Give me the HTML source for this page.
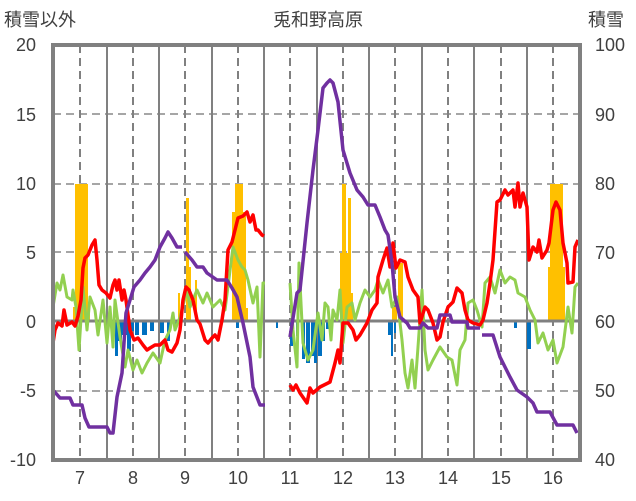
<!DOCTYPE html>
<html><head><meta charset="utf-8"><style>
html,body{margin:0;padding:0;background:#fff}
svg{display:block}
text{font-family:"Liberation Sans","Noto Sans CJK JP",sans-serif;fill:#404040}
</style></head><body>
<svg width="636" height="501" viewBox="0 0 636 501">
<rect width="636" height="501" fill="#fff"/>
<!-- grid -->
<g stroke="#a6a6a6" stroke-width="2" stroke-dasharray="8,5">
<line x1="53" y1="114" x2="580" y2="114"/><line x1="53" y1="184" x2="580" y2="184"/>
<line x1="53" y1="252" x2="580" y2="252"/><line x1="53" y1="391" x2="580" y2="391"/>
</g>
<g stroke="#808080" stroke-width="2" stroke-dasharray="8,5">
<line x1="80" y1="45" x2="80" y2="460"/><line x1="133" y1="45" x2="133" y2="460"/>
<line x1="185" y1="45" x2="185" y2="460"/><line x1="238" y1="45" x2="238" y2="460"/>
<line x1="290" y1="45" x2="290" y2="460"/><line x1="343" y1="45" x2="343" y2="460"/>
<line x1="395" y1="45" x2="395" y2="460"/><line x1="448" y1="45" x2="448" y2="460"/>
<line x1="501" y1="45" x2="501" y2="460"/><line x1="553" y1="45" x2="553" y2="460"/>
</g>
<g stroke="#808080" stroke-width="2">
<line x1="107" y1="45" x2="107" y2="460"/><line x1="159" y1="45" x2="159" y2="460"/>
<line x1="212" y1="45" x2="212" y2="460"/><line x1="264" y1="45" x2="264" y2="460"/>
<line x1="317" y1="45" x2="317" y2="460"/><line x1="369" y1="45" x2="369" y2="460"/>
<line x1="422" y1="45" x2="422" y2="460"/><line x1="474" y1="45" x2="474" y2="460"/>
<line x1="527" y1="45" x2="527" y2="460"/>
</g>
<!-- orange bars -->
<g fill="#FFC000">
<rect x="75" y="184" width="13" height="137"/><rect x="73" y="307" width="17" height="14"/>
<rect x="186" y="198" width="3" height="123"/><rect x="178" y="293" width="2" height="28"/>
<rect x="189" y="267" width="2" height="54"/><rect x="195" y="280" width="2" height="41"/>
<rect x="235" y="184" width="8" height="137"/><rect x="232" y="212" width="14" height="109"/><rect x="246" y="308" width="2" height="13"/>
<rect x="342" y="184" width="4" height="137"/><rect x="340" y="253" width="11" height="68"/><rect x="348" y="198" width="3" height="123"/><rect x="351" y="293" width="2" height="28"/>
<rect x="392" y="307" width="5" height="14"/><rect x="398" y="263" width="5" height="58"/>
<rect x="550" y="184" width="13" height="137"/><rect x="548" y="267" width="17" height="54"/><rect x="563" y="293" width="2" height="28"/>
</g>
<!-- blue bars -->
<g fill="#0070C0">
<rect x="115" y="321" width="3" height="35"/><rect x="118" y="321" width="4" height="20"/><rect x="122" y="321" width="5" height="14"/>
<rect x="127" y="321" width="4" height="30"/><rect x="131" y="321" width="3" height="10"/><rect x="135" y="321" width="4" height="14"/>
<rect x="142" y="321" width="5" height="14"/><rect x="150" y="321" width="4" height="10"/><rect x="160" y="321" width="4" height="12"/>
<rect x="167" y="321" width="3" height="20"/><rect x="174" y="321" width="3" height="8"/>
<rect x="236" y="321" width="3" height="7"/><rect x="276" y="321" width="2" height="7"/>
<rect x="290" y="321" width="3" height="25"/><rect x="296" y="321" width="3" height="15"/><rect x="302" y="321" width="3" height="38"/>
<rect x="306" y="321" width="4" height="42"/><rect x="311" y="321" width="3" height="35"/><rect x="314" y="321" width="3" height="42"/>
<rect x="318" y="321" width="4" height="35"/><rect x="322" y="321" width="3" height="20"/><rect x="326" y="321" width="3" height="8"/>
<rect x="388" y="321" width="3" height="14"/><rect x="391" y="321" width="2" height="35"/><rect x="394" y="321" width="2" height="12"/>
<rect x="514" y="321" width="3" height="7"/><rect x="527" y="321" width="4" height="28"/>
</g>
<!-- zero line -->
<line x1="53" y1="321" x2="580" y2="321" stroke="#808080" stroke-width="3"/>
<!-- green -->
<g fill="none" stroke="#92D050" stroke-width="3" stroke-linejoin="round">
<polyline points="53,307 57,283 60,290 63,275 67,297 72,300 73,290 76,307 79,350 83,287 87,330 90,297 95,310 98,335 103,300 107,343 110,307 113,347 115,300 120,337 125,367 128,350 133,370 137,360 142,373 147,363 153,353 160,363 165,340 170,330 173,313 175,330 180,317 187,290 190,307 197,290 203,303 207,293 213,307 220,300 225,310 233,247 238,260 242,267 245,270 248,280 253,303 257,287 260,357 263,283 265,283"/>
<polyline points="290,283 293,330 297,367 299,263 303,343 305,350 308,360 313,350 318,313 322,340 325,303 328,307 331,340 333,310 337,320 340,290 343,343 347,307 352,303 355,320 360,303 365,290 370,297 375,290 378,280 383,293 388,280 392,307 397,297 402,340 405,373 408,388 412,360 415,388 418,347 422,290 425,350 428,370 433,360 440,347 447,357 452,360 457,385 460,350 465,340 468,303 473,300 477,310 482,327 485,283 490,277 495,293 500,270 505,283 510,277 515,280 518,293 525,297 530,310 535,320 538,343 543,333 548,350 553,340 557,363 563,347 568,307 572,333 575,287 578,283"/>
</g>
<!-- red -->
<g fill="none" stroke="#FF0000" stroke-width="3.5" stroke-linejoin="round">
<polyline points="53,343 55,330 58,323 62,326 64,310 67,325 72,322 75,326 78,316 81,300 83,268 85,258 88,255 92,245 95,240 97,260 99,285 102,290 106,293 110,298 113,285 115,280 117,290 119,280 122,300 124,290 126,300 130,330 134,340 138,338 143,345 147,350 150,348 155,345 160,345 165,340 168,350 172,352 177,343 180,330 183,300 186,287 189,290 193,300 197,320 200,324 205,340 208,343 212,338 215,335 218,340 222,320 225,300 228,250 232,242 235,230 238,218 243,216 247,212 250,222 253,215 256,230 258,230 262,235 264,236"/>
<polyline points="290,385 293,390 296,385 300,393 307,403 310,388 313,393 320,387 330,382 335,363 338,350 340,363 343,323 348,323 353,330 356,340 360,335 367,323 372,310 377,303 378,277 383,260 387,248 390,267 393,243 396,268 400,260 405,262 408,277 413,290 418,297 420,323 425,307 428,310 433,323 437,340 440,337 443,322 448,307 453,302 457,288 462,293 465,310 468,320 473,323 480,325 483,320 487,303 490,283 493,260 497,202 500,200 505,190 508,195 513,190 515,207 518,183 520,207 523,193 527,207 529,260 533,247 537,252 539,240 542,258 547,250 549,243 553,210 556,202 560,210 563,243 567,263 568,283 573,282 575,247 578,240"/>
</g>
<!-- purple -->
<g fill="none" stroke="#7030A0" stroke-width="3.5" stroke-linejoin="round">
<polyline points="53,390 60,398 70,398 73,405 82,405 85,418 89,427 107,427 110,433 113,433 117,397 122,373 126,313 130,300 134,287 140,280 145,273 150,267 155,260 160,247 165,238 168,232 172,238 177,247 182,247"/>
<polyline points="185,252 192,260 197,267 203,267 207,273 217,280 227,280 232,288 237,297 243,323 250,357 253,387 260,405 265,405"/>
<polyline points="290,337 297,293 300,290 307,223 313,170 318,130 323,88 327,83 330,80 333,83 338,102 343,150 350,173 357,190 363,197 368,205 375,205 380,217 385,230 388,235 392,263 395,297 400,317 407,323 410,328 420,328 423,323 428,328 437,328 440,315 450,315 452,322 467,322 468,328 480,328"/>
<polyline points="482,335 493,335 500,357 510,377 517,390 527,397 533,403 537,412 550,412 557,425 573,425 577,433"/>
</g>
<!-- frame -->
<rect x="53" y="45" width="527" height="415" fill="none" stroke="#808080" stroke-width="4"/>
<!-- labels -->
<text x="318" y="26" font-size="18" text-anchor="middle">兎和野高原</text>
<text x="4" y="26" font-size="18">積雪以外</text>
<text x="588" y="26" font-size="18">積雪</text>
<g font-size="18" text-anchor="end">
<text x="36" y="51">20</text><text x="36" y="121">15</text><text x="36" y="190">10</text>
<text x="36" y="259">5</text><text x="36" y="328">0</text><text x="36" y="397">-5</text><text x="36" y="466">-10</text>
</g>
<g font-size="18">
<text x="595" y="51">100</text><text x="595" y="121">90</text><text x="595" y="190">80</text>
<text x="595" y="259">70</text><text x="595" y="328">60</text><text x="595" y="397">50</text><text x="595" y="466">40</text>
</g>
<g font-size="18" text-anchor="middle">
<text x="80" y="484">7</text><text x="133" y="484">8</text><text x="185" y="484">9</text>
<text x="238" y="484">10</text><text x="290" y="484">11</text><text x="343" y="484">12</text>
<text x="395" y="484">13</text><text x="448" y="484">14</text><text x="501" y="484">15</text><text x="553" y="484">16</text>
</g>
</svg>
</body></html>
